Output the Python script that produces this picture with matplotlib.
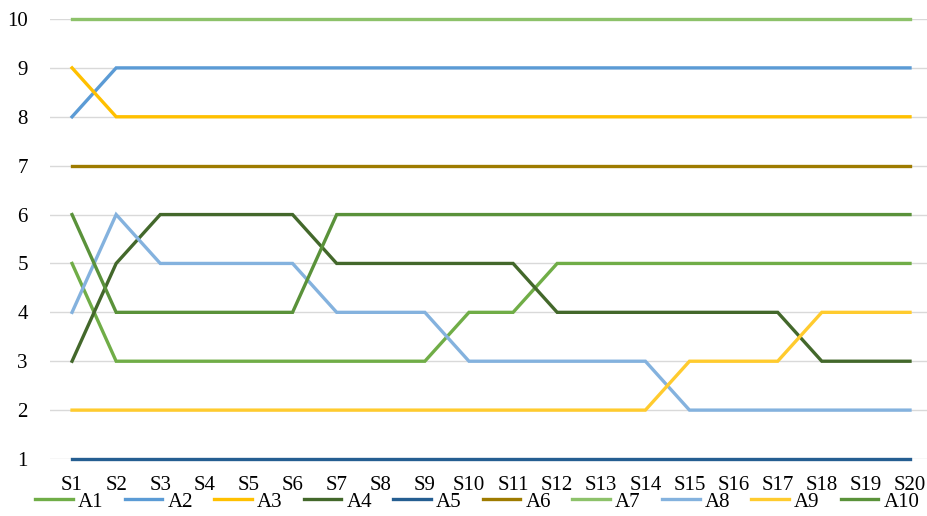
import matplotlib
matplotlib.use("Agg")
import matplotlib.pyplot as plt

stages = [f"S{i}" for i in range(1, 21)]

A1 = [5, 3, 3, 3, 3, 3, 3, 3, 3, 4, 4, 5, 5, 5, 5, 5, 5, 5, 5, 5]
A2 = [8, 9, 9, 9, 9, 9, 9, 9, 9, 9, 9, 9, 9, 9, 9, 9, 9, 9, 9, 9]
A3 = [9, 8, 8, 8, 8, 8, 8, 8, 8, 8, 8, 8, 8, 8, 8, 8, 8, 8, 8, 8]
A4 = [3, 5, 6, 6, 6, 6, 5, 5, 5, 5, 5, 4, 4, 4, 4, 4, 4, 3, 3, 3]
A5 = [1] * 20
A6 = [7] * 20
A7 = [10] * 20
A8 = [4, 6, 5, 5, 5, 5, 4, 4, 4, 3, 3, 3, 3, 3, 2, 2, 2, 2, 2, 2]
A9 = [2, 2, 2, 2, 2, 2, 2, 2, 2, 2, 2, 2, 2, 2, 3, 3, 3, 4, 4, 4]
A10 = [6, 4, 4, 4, 4, 4, 6, 6, 6, 6, 6, 6, 6, 6, 6, 6, 6, 6, 6, 6]

names = ["A1", "A2", "A3", "A4", "A5", "A6", "A7", "A8", "A9", "A10"]
series = [A1, A2, A3, A4, A5, A6, A7, A8, A9, A10]
colors = ["#70AD47", "#5B9BD5", "#FFC000", "#43682B", "#255E91",
          "#9E7B00", "#8DC26A", "#84B2DE", "#FFCB2E", "#5A923A"]

plt.rcParams["font.family"] = ["Liberation Serif", "DejaVu Serif"]

W, H = 927, 516
fig = plt.figure(figsize=(W / 100, H / 100), dpi=100)
left_px, right_px = 50, 927
top_px, bot_px = 19, 459
ax = fig.add_axes([left_px / W, 1 - bot_px / H,
                   (right_px - left_px) / W, (bot_px - top_px) / H])

x = list(range(len(stages)))
step = (910 - 72) / 19.0
ax.set_xlim(-0.5, 19 + (right_px - 910) / step)
ax.set_ylim(1, 10)

for name, vals, c in zip(names, series, colors):
    ax.plot(x, vals, color=c, lw=2.4, label=name, clip_on=False,
            solid_joinstyle="miter", zorder=3)

ax.set_yticks(range(1, 11))
ax.grid(axis="y", color="#D9D9D9", lw=1.0, zorder=0)
ax.set_xticks(x)
ax.set_xticklabels(stages)
for s in ax.spines.values():
    s.set_visible(False)
ax.tick_params(axis="both", length=0, labelsize=15, colors="#000000")
ax.tick_params(axis="x", pad=12)
ax.tick_params(axis="y", pad=16)

leg = fig.legend(loc="center", bbox_to_anchor=(0.515, 1 - 502 / H), ncol=10,
                 frameon=False, fontsize=15, handlelength=1.8,
                 handletextpad=0.25, columnspacing=1.02, borderpad=0)

fig.savefig("out.png", dpi=100)
